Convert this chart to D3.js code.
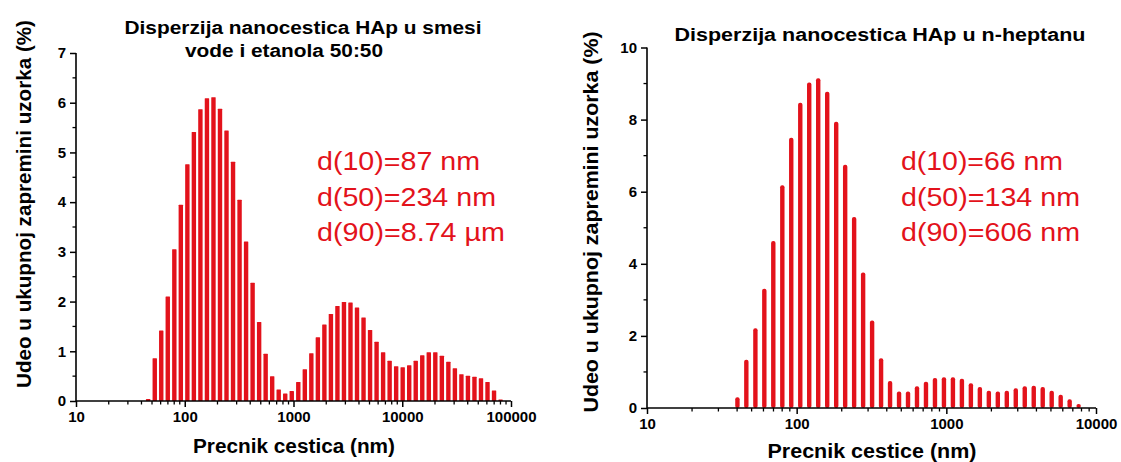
<!DOCTYPE html>
<html><head><meta charset="utf-8">
<script src="https://cdn.jsdelivr.net/npm/d3@7"></script>
<style>html,body{margin:0;padding:0;background:#fff;}svg{display:block;}</style>
</head><body>
<svg id="c" width="1121" height="462"></svg>
<script>
// Size classes (nm), bin centres of the instrument
const sizes = [40.2,46.1,53.0,60.8,69.8,80.2,92.0,105.7,121.3,139.3,160.0,183.7,210.9,242.1,278.0,319.2,366.4,420.7,483.1,554.6,636.8,731.1,839.5,963.9,1106.6,1270.6,1458.8,1674.9,1923.1,2208.0,2535.1,2910.7,3341.9,3837.0,4405.5,5058.2,5807.6,6668.0,7655.9,8790.2,10092.5,11587.8,13304.6,15275.7,17538.8,20137.2,23120.6,26546.1,30479.0,34994.5,40179.1,46131.8,52966.3,60813.6,69823.2,80167.8];

// Left: water/ethanol 50:50 (starts at 46.1 nm)
const leftSizes = sizes.slice(1, 56);
const leftValues = [0.04,0.86,1.42,2.10,3.05,3.95,4.76,5.41,5.87,6.09,6.11,5.88,5.44,4.81,4.05,3.21,2.38,1.59,0.95,0.50,0.23,0.15,0.20,0.38,0.64,0.96,1.28,1.54,1.75,1.91,1.99,1.98,1.88,1.68,1.43,1.19,0.98,0.81,0.70,0.68,0.72,0.81,0.92,0.98,0.98,0.91,0.79,0.66,0.54,0.51,0.49,0.46,0.38,0.21,0.03];

// Right: n-heptane (starts at 40.2 nm)
const rightSizes = sizes.slice(0, 39);
const rightValues = [0.30,1.34,2.21,3.31,4.63,6.18,7.50,8.47,9.03,9.15,8.77,7.94,6.75,5.30,3.76,2.43,1.38,0.75,0.46,0.46,0.60,0.73,0.83,0.85,0.85,0.81,0.69,0.58,0.48,0.46,0.48,0.55,0.60,0.62,0.58,0.48,0.37,0.24,0.11];

const leftXTicks = [10,100,1000,10000,100000];
const rightXTicks = [10,100,1000,10000];
const leftYTicks = [0,1,2,3,4,5,6,7];
const rightYTicks = [0,2,4,6,8,10];

const leftTitle = ["Disperzija nanocestica HAp u smesi","vode i etanola 50:50"];
const rightTitle = ["Disperzija nanocestica HAp u n-heptanu"];
const leftNotes = ["d(10)=87 nm","d(50)=234 nm","d(90)=8.74 µm"];
const rightNotes = ["d(10)=66 nm","d(50)=134 nm","d(90)=606 nm"];
const yLabel = "Udeo u ukupnoj zapremini uzorka (%)";
const leftXLabel = "Precnik cestica (nm)";
const rightXLabel = "Precnik cestice (nm)";

const RED = "#e3121b";
const FONT = "'Liberation Sans', Arial, sans-serif";
const svg = d3.select("#c");

function txt(g, t, x, y, size, weight, fill, len, anchor) {
  const e = g.append("text").attr("x", x).attr("y", y).attr("font-family", FONT)
    .attr("font-size", size).attr("font-weight", weight).attr("fill", fill)
    .attr("text-anchor", anchor || "start").text(t);
  if (len) e.attr("textLength", len).attr("lengthAdjust", "spacingAndGlyphs");
  return e;
}

function panel(o) {
  const g = svg.append("g");
  const x = d3.scaleLog().domain(o.xDomain).range([o.x0, o.x1]);
  const y = d3.scaleLinear().domain(o.yDomain).range([o.y0, o.y1]);

  // bars
  g.selectAll("rect.bar").data(o.sizes.map((s,i)=>({s, v:o.values[i]})))
    .enter().append("rect").attr("class","bar")
    .attr("x", d => x(d.s) - o.bw/2)
    .attr("width", o.bw)
    .attr("y", d => y(d.v))
    .attr("height", d => y(0) - y(d.v))
    .attr("rx", o.rx).attr("fill", RED);

  // x axis
  const minorX = [];
  for (let p = o.xDomain[0]; p < o.xDomain[1]; p *= 10)
    for (let m = 2; m <= 9; m++) minorX.push(p*m);
  const xa = g.append("g").attr("transform", `translate(0,${o.y0})`);
  xa.call(d3.axisBottom(x).tickValues(o.xTicks).tickFormat(d3.format("d")).tickSize(6).tickPadding(4));
  xa.append("g").selectAll("line").data(minorX).enter().append("line")
    .attr("x1", d=>x(d)).attr("x2", d=>x(d)).attr("y1",0).attr("y2",3.5).attr("stroke","#000").attr("stroke-width",1.3);
  // y axis
  const ya = g.append("g").attr("transform", `translate(${o.x0},0)`);
  ya.call(d3.axisLeft(y).tickValues(o.yTicks).tickFormat(d3.format("d")).tickSize(6).tickPadding(4));
  ya.append("g").selectAll("line").data(o.yMinor).enter().append("line")
    .attr("y1", d=>y(d)).attr("y2", d=>y(d)).attr("x1",0).attr("x2",-3.5).attr("stroke","#000").attr("stroke-width",1.3);
  [xa, ya].forEach(a => {
    a.select(".domain").attr("stroke","#000").attr("stroke-width",1.6);
    a.selectAll(".tick line").attr("stroke","#000").attr("stroke-width",1.5);
    a.selectAll("text").attr("font-family",FONT).attr("font-weight","bold").attr("font-size",15).attr("fill","#000");
  });
  ya.select(".domain").attr("d", `M0,${o.y0}V${o.y1}`);
  xa.select(".domain").attr("d", `M${o.x0},0H${o.x1}`);

  // titles
  o.title.forEach((t,i) => txt(g, t, o.titleX[i], o.titleY[i], 18, "bold", "#000", o.titleLen[i], "middle"));
  // notes
  o.notes.forEach((t,i) => txt(g, t, o.noteX, o.noteY + i*35.5, 26, "normal", RED, o.noteLen[i]));
  // axis labels
  txt(g, o.xLabel, o.xlX, o.xlY, 20, "bold", "#000", o.xlLen, "middle");
  txt(g, yLabel, 0, 0, 21, "bold", "#000", o.ylLen, "middle")
    .attr("transform", `translate(${o.ylX},${o.ylY}) rotate(-90)`);
}

panel({
  sizes: leftSizes, values: leftValues,
  xDomain:[10,100000], yDomain:[0,7], x0:76, x1:511, y0:401, y1:53,
  bw:4.4, rx:0.5, xTicks:leftXTicks, yTicks:leftYTicks,
  yMinor:[0.5,1.5,2.5,3.5,4.5,5.5,6.5],
  title:leftTitle, titleX:[303,284], titleY:[34,57], titleLen:[357,198],
  notes:leftNotes, noteX:317, noteY:170, noteLen:[163,179,188],
  xLabel:leftXLabel, xlX:294, xlY:453, xlLen:202, ylX:31, ylY:204, ylLen:368
});
panel({
  sizes: rightSizes, values: rightValues,
  xDomain:[10,10000], yDomain:[0,10], x0:647, x1:1096, y0:408, y1:47.5,
  bw:4.4, rx:2, xTicks:rightXTicks, yTicks:rightYTicks,
  yMinor:[1,3,5,7,9],
  title:rightTitle, titleX:[880], titleY:[41], titleLen:[411],
  notes:rightNotes, noteX:901, noteY:170, noteLen:[162,179,179],
  xLabel:rightXLabel, xlX:872, xlY:458, xlLen:209, ylX:598, ylY:222, ylLen:381
});
</script>
</body></html>
